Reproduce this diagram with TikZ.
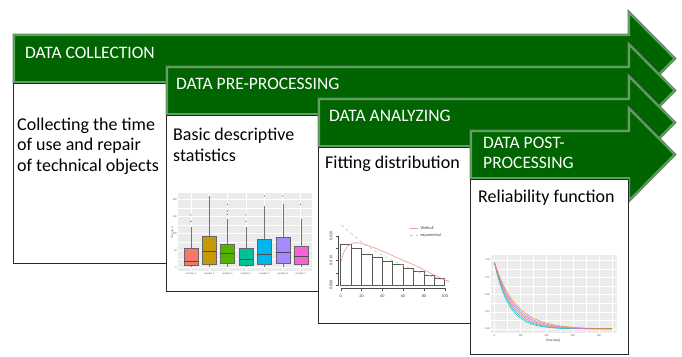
\documentclass[tikz,border=0pt]{standalone}
\usepackage{fontspec}
\setmainfont{Carlito}
\definecolor{arrowgreen}{RGB}{0,100,0}
\definecolor{bevelgreen}{RGB}{86,170,86}
\definecolor{edgegrey}{RGB}{120,120,120}
\definecolor{panelgrey}{RGB}{235,235,235}
\definecolor{gga}{HTML}{F8766D}
\definecolor{ggb}{HTML}{C49A00}
\definecolor{ggc}{HTML}{53B400}
\definecolor{ggd}{HTML}{00C094}
\definecolor{gge}{HTML}{00B6EB}
\definecolor{ggf}{HTML}{A58AFF}
\definecolor{ggg}{HTML}{FB61D7}
\definecolor{weibullpink}{RGB}{240,150,150}
\definecolor{exppale}{RGB}{160,220,150}
\newcommand{\stagepath}[2]{(#1,#2-24.5) -- (628,#2-24.5) -- (628,#2-48.5) -- (676,#2) -- (628,#2+48.5) -- (628,#2+24.5) -- (#1,#2+24.5) -- cycle}
\newcommand{\stagearrow}[2]{%
  \begin{scope}
    \clip \stagepath{#1}{#2};
    \fill[arrowgreen] \stagepath{#1}{#2};
    \draw[bevelgreen, line width=4pt] \stagepath{#1}{#2};
  \end{scope}
  \draw[edgegrey, line width=0.9pt] \stagepath{#1}{#2};}
\tikzset{
  stagetitle/.style={anchor=base west, inner sep=0pt, text=white, align=left, font=\fontsize{17.5}{20}\selectfont},
  stagetext/.style={anchor=base west, inner sep=0pt, align=left, font=\fontsize{18}{20.5}\selectfont},
  stagebox/.style={draw=black!85, fill=white, line width=0.8pt},
  ticklabel/.style={inner sep=0.5pt, text=black!65, font=\fontsize{2.6}{3}\selectfont},
  rlabel/.style={inner sep=0.5pt, text=black!75, font=\fontsize{4.2}{5}\selectfont},
  gridline/.style={white, line width=0.45pt},
  minorgrid/.style={white, line width=0.25pt}
}
\begin{document}
\begin{tikzpicture}[x=1pt,y=-1pt]
    \useasboundingbox (0,0) rectangle (682,356);
    % data collection (multi-line nodes sit on their last baseline)
    \stagearrow{13}{58.5}
    \draw[stagebox] (13,83) rectangle (166,263);
    \node[stagetitle] (collect) at (25,58) {DATA COLLECTION};
    \node[stagetext] (collecttext) at (17,171) {Collecting the time\\of use and repair\\of technical objects};
    % data pre-processing
    \stagearrow{166}{90.5}
    \draw[stagebox] (166,115) rectangle (318,291);
    \node[stagetitle] (prep) at (176,89) {DATA PRE-PROCESSING};
    \node[stagetext] (preptext) at (173,161) {Basic descriptive\\statistics};
    % boxplot
    \fill[panelgrey] (178,193) rectangle (312,271);
    \foreach \y in {258.8,241.8,224.8,207.8} \draw[minorgrid] (178,\y) -- (312,\y);
    \foreach \y in {267.3,250.3,233.3,216.3,199.3} \draw[gridline] (178,\y) -- (312,\y);
    \foreach \y/\t in {267.3/0,250.3/50,233.3/100,216.3/150,199.3/200}
        \node[ticklabel, anchor=east] (btick\t) at (177.5,\y) {\t};
    \node[ticklabel, rotate=90] (bylabel) at (172.5,233) {time [days]};
    \foreach \x/\q/\p/\m/\w/\c [count=\n] in {191/247.7/265/261/227.3/gga, 209.3/236/264/251/196/ggb,
        227.3/244.3/263.3/253.7/219.3/ggc, 246/247.7/265/259/227.3/ggd, 264.3/239.3/264/254/206/gge,
        282.7/237.3/263.3/252/204/ggf, 300.7/246/264/256/219.3/ggg} {
        \draw[gridline] (\x,193) -- (\x,271);
        \draw[black!55, line width=0.4pt] (\x,\w) -- (\x,266.5);
        \filldraw[fill=\c, draw=black!60, line width=0.35pt] (\x-7,\q) rectangle (\x+7,\p);
        \draw[black!70, line width=0.7pt] (\x-7,\m) -- (\x+7,\m);
        \node[ticklabel] (bxlabel\n) at (\x,273.5) {number \n};
    }
    \foreach \x/\y in {191/215,191/221.3,227.3/204.3,227.3/211,227.3/214.3,246/215,246/221.3,264.3/196,282.7/196,300.7/204.3}
        \fill[black!60] (\x,\y) circle (0.7);
    % data analyzing
    \stagearrow{318}{122.5}
    \draw[stagebox] (318,147) rectangle (470,323);
    \node[stagetitle] (analyze) at (329,121) {DATA ANALYZING};
    \node[stagetext] (analyzetext) at (325,168) {Fitting distribution};
    % histogram
    \foreach \i/\t in {0/244.3,1/248.3,2/254.3,3/257.7,4/261.7,5/264.3,6/268.3,7/271.7,8/275,9/278.3}
        \draw[black!65, line width=0.6pt] (340.7+\i*10.4,285) rectangle (340.7+\i*10.4+10.4,\t);
    \draw[exppale, dashed, line width=0.6pt] plot[smooth] coordinates {(341.3,225) (350,232.5) (361.3,241.7) (372,249) (384.7,256.7) (400,264) (418,271.7) (432,276.5) (449,281.5)};
    \draw[weibullpink, line width=0.6pt] plot[smooth] coordinates {(341,262) (344,252) (348,246) (354.7,242.7) (362,243.5) (372,247) (384.7,252) (400,259) (418,266.7) (432,274) (449,281.5)};
    \draw[black!70, line width=0.4pt] (340.7,288) -- (444.7,288);
    \foreach \i in {0,20,...,100} {
        \draw[black!70, line width=0.4pt] (340.7+\i*1.04,288) -- (340.7+\i*1.04,291);
        \node[rlabel] (htick\i) at (340.7+\i*1.04,296) {\i};
    }
    \draw[black!70, line width=0.4pt] (338.5,285) -- (338.5,236);
    \foreach \y in {285,272.75,260.5,248.25,236} \draw[black!70, line width=0.4pt] (338.5,\y) -- (335.5,\y);
    \foreach \y/\t in {285/0.000,260.5/0.010,236/0.020}
        \node[rlabel, rotate=90] (hy\t) at (331,\y) {\t};
    \draw[weibullpink, line width=0.6pt] (409.7,228.3) -- (418,228.3);
    \node[rlabel, anchor=west] (legweibull) at (420,228.3) {Weibull};
    \draw[exppale, dashed, line width=0.6pt] (409.7,235) -- (418,235);
    \node[rlabel, anchor=west] (legexp) at (420,235) {exponential};
    % data post-processing
    \stagearrow{470}{154.5}
    \draw[stagebox] (470,179) rectangle (628,354);
    \node[stagetitle] (post) at (483,168) {DATA POST-\\PROCESSING};
    \node[stagetext] (posttext) at (478,202) {Reliability function};
    % survival curves
    \fill[panelgrey] (490.7,255) rectangle (616.7,333.3);
    \begin{scope}[shift={(494.3,329)}, x=0.2617pt, y=69pt]
        \foreach \s in {0.125,0.375,0.625,0.875} \draw[minorgrid] (-13.8,\s) -- (467.6,\s);
        \foreach \d in {50,150,250,350,450} \draw[minorgrid] (\d,-0.063) -- (\d,1.072);
        \foreach \s in {0,0.25,0.5,0.75,1} \draw[gridline] (-13.8,\s) -- (467.6,\s);
        \foreach \d in {0,100,200,300,400} {
            \draw[gridline] (\d,-0.063) -- (\d,1.072);
            \node[ticklabel] (sxtick\d) at (\d,-0.1) {\d};
        }
        \foreach \s/\t in {0/0.00,0.25/0.25,0.5/0.50,0.75/0.75,1/1.00}
            \node[ticklabel, anchor=east] (sytick\t) at (-15,\s) {\t};
        \foreach \tau/\c in {55/ggd,60/gge,65/gga,70/ggf,75/ggg,82/ggb}
            \draw[\c, line width=0.45pt] plot[domain=0:450, samples=70] (\x,{0.97*exp(-\x/\tau)});
        \node[ticklabel, font=\fontsize{3.4}{4}\selectfont, text=black!80] (sxlabel) at (225,-0.17) {time [day]};
    \end{scope}
\end{tikzpicture}
\end{document}
